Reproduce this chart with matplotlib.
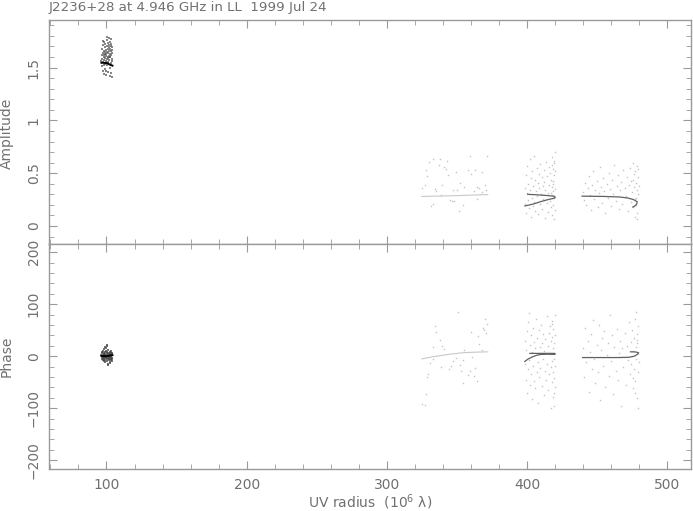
import numpy as np
import matplotlib
matplotlib.use("Agg")
import matplotlib.pyplot as plt
from matplotlib.ticker import MultipleLocator

# ---- visibilities (uv radius in 10^6 lambda) ----
# short baseline cluster, amplitude
uv_amp_1 = [96.4, 96.6, 96.8, 97.0, 97.1, 97.3, 97.4, 97.6, 97.7, 97.9, 98.0, 98.1, 98.3, 98.4,
            98.5, 98.7, 98.8, 98.9, 99.1, 99.2, 99.3, 99.5, 99.6, 99.7, 99.9, 100.0, 100.1, 100.3,
            100.4, 100.5, 100.7, 100.8, 100.9, 101.1, 101.2, 101.3, 101.5, 101.6, 101.7, 101.9,
            102.0, 102.1, 102.3, 102.4, 102.5, 102.7, 102.8, 102.9, 103.1, 103.2, 103.3, 103.5,
            103.6, 103.7, 103.9, 104.0, 104.1, 104.2, 98.2, 99.4, 100.6, 101.4, 102.6, 97.5,
            103.0, 100.2, 101.0, 99.0, 102.2, 103.4]
amp_1 = [1.56, 1.62, 1.51, 1.68, 1.58, 1.47, 1.64, 1.55, 1.71, 1.60, 1.52, 1.66, 1.57, 1.74,
         1.62, 1.49, 1.69, 1.59, 1.65, 1.53, 1.72, 1.61, 1.56, 1.67, 1.43, 1.63, 1.70, 1.58,
         1.76, 1.65, 1.52, 1.68, 1.60, 1.73, 1.64, 1.55, 1.69, 1.61, 1.78, 1.66, 1.57, 1.71,
         1.63, 1.50, 1.68, 1.74, 1.60, 1.66, 1.54, 1.70, 1.62, 1.45, 1.67, 1.58, 1.64, 1.41,
         1.69, 1.56, 1.44, 1.47, 1.79, 1.46, 1.42, 1.75, 1.77, 1.54, 1.59, 1.63, 1.60, 1.72]

uv_phs_1 = [96.4, 96.6, 96.8, 97.0, 97.1, 97.3, 97.4, 97.6, 97.7, 97.9, 98.0, 98.1, 98.3, 98.4,
            98.5, 98.7, 98.8, 98.9, 99.1, 99.2, 99.3, 99.5, 99.6, 99.7, 99.9, 100.0, 100.1, 100.3,
            100.4, 100.5, 100.7, 100.8, 100.9, 101.1, 101.2, 101.3, 101.5, 101.6, 101.7, 101.9,
            102.0, 102.1, 102.3, 102.4, 102.5, 102.7, 102.8, 102.9, 103.1, 103.2, 103.3, 103.5,
            103.6, 103.7, 103.9, 104.0, 104.1, 104.2, 99.0, 100.2, 101.4, 98.2, 102.6, 100.6]
phs_1 = [2, -5, 6, -2, 9, -8, 3, -4, 11, 0, -10, 5, -3, 7, -6, 2, -12, 8, -1, 4, -7, 10, 1, -4,
         15, -2, 6, -9, 3, -5, 8, 0, -14, 4, -3, 12, -6, 2, 7, -8, 1, -2, 9, -11, 5, -4, 3, -7,
         6, -1, 10, -5, 2, -9, 4, -3, 7, -6, 17, 19, -16, 13, -13, 21]

# second cluster (325-372)
uv_amp_2 = [359.0, 371.4, 333.3, 337.6, 330.0, 342.9, 337.0, 341.0, 342.0, 327.9, 357.6, 362.6,
            349.0, 367.6, 360.2, 329.0, 344.0, 351.9, 326.9, 339.7, 369.7, 355.0, 364.5, 325.4,
            334.7, 366.1, 346.9, 350.0, 370.9, 335.4, 361.9, 368.1, 339.0, 364.3, 344.9, 346.3,
            348.1, 332.6, 354.0, 331.2, 351.2]
amp_2 = [0.66, 0.66, 0.63, 0.63, 0.61, 0.62, 0.58, 0.56, 0.54, 0.53, 0.53, 0.53, 0.51, 0.51,
         0.49, 0.47, 0.48, 0.41, 0.39, 0.39, 0.39, 0.37, 0.37, 0.36, 0.35, 0.36, 0.34, 0.34,
         0.34, 0.33, 0.33, 0.32, 0.29, 0.26, 0.25, 0.24, 0.24, 0.21, 0.20, 0.19, 0.14]

uv_phs_2 = [351.1, 369.7, 334.7, 371.4, 368.3, 335.4, 360.0, 369.0, 370.7, 365.0, 337.6, 366.1,
            339.7, 333.3, 341.1, 355.4, 367.6, 361.1, 332.6, 349.0, 354.7, 346.9, 331.1, 351.9,
            339.0, 346.1, 344.7, 362.6, 352.6, 359.0, 357.6, 361.9, 329.7, 329.0, 364.3, 354.0,
            327.9, 325.4, 326.9]
phs_2 = [85, 72, 58, 62, 55, 47, 47, 51, 45, 39, 31, 24, 20, 18, 14, 12, 12, -1, -5, -3, -7,
         -9, -13, -17, -20, -18, -24, -22, -28, -28, -36, -38, -34, -40, -47, -51, -72, -92, -93]

# third cluster (398-420)
uv_amp_3 = [398.5, 398.8, 399.2, 399.5, 399.9, 400.3, 400.6, 401.0, 401.4, 401.8, 402.1, 402.5,
            402.9, 403.3, 403.7, 404.0, 404.4, 404.8, 405.2, 405.6, 406.0, 406.4, 406.8, 407.2,
            407.6, 408.0, 408.4, 408.8, 409.2, 409.6, 410.0, 410.4, 410.8, 411.2, 411.6, 412.0,
            412.4, 412.8, 413.2, 413.6, 414.0, 414.4, 414.8, 415.2, 415.6, 416.0, 416.3, 416.6,
            416.9, 417.2, 417.5, 417.7, 417.9, 418.1, 418.3, 418.5, 418.7, 418.9, 419.1, 419.3,
            419.5, 419.7, 419.8, 419.9, 420.0, 418.0, 419.0, 418.6, 419.4, 417.4]
amp_3 = [0.36, 0.21, 0.48, 0.12, 0.31, 0.57, 0.25, 0.40, 0.17, 0.63, 0.34, 0.09, 0.45, 0.27,
         0.52, 0.19, 0.38, 0.66, 0.23, 0.44, 0.14, 0.33, 0.55, 0.28, 0.41, 0.11, 0.49, 0.36,
         0.21, 0.59, 0.30, 0.46, 0.16, 0.38, 0.26, 0.53, 0.42, 0.08, 0.34, 0.61, 0.22, 0.47,
         0.31, 0.13, 0.56, 0.39, 0.24, 0.50, 0.18, 0.44, 0.65, 0.29, 0.37, 0.10, 0.54, 0.33,
         0.43, 0.20, 0.60, 0.27, 0.48, 0.15, 0.70, 0.35, 0.52, 0.58, 0.07, 0.40, 0.62, 0.31]

uv_phs_3 = [398.5, 398.8, 399.2, 399.5, 399.9, 400.3, 400.6, 401.0, 401.4, 401.8, 402.1, 402.5,
            402.9, 403.3, 403.7, 404.0, 404.4, 404.8, 405.2, 405.6, 406.0, 406.4, 406.8, 407.2,
            407.6, 408.0, 408.4, 408.8, 409.2, 409.6, 410.0, 410.4, 410.8, 411.2, 411.6, 412.0,
            412.4, 412.8, 413.2, 413.6, 414.0, 414.4, 414.8, 415.2, 415.6, 416.0, 416.3, 416.6,
            416.9, 417.2, 417.5, 417.7, 417.9, 418.1, 418.3, 418.5, 418.7, 418.9, 419.1, 419.3,
            419.5, 419.7, 419.8, 419.9, 420.0, 419.0, 418.0, 419.4, 417.0, 401.2]
phs_3 = [-15, 30, -45, 12, -70, 48, -25, 65, -8, -55, 22, -35, 40, -82, 8, 55, -18, -48, 28,
         -62, 15, 72, -30, 35, -12, -90, 50, -40, 18, -22, 60, -58, 25, -5, 42, -75, 10, -28,
         33, -45, 78, -15, 20, -65, 45, -35, 5, 58, -20, 30, -50, 68, -10, 38, -78, 15, -30,
         52, -5, -42, 25, -60, 80, -18, 40, -95, 62, -70, -99, 84]

# fourth cluster (440-480)
uv_amp_4 = [440.0, 440.8, 441.6, 442.4, 443.2, 444.0, 444.8, 445.6, 446.4, 447.2, 448.0, 448.8,
            449.6, 450.4, 451.2, 452.0, 452.8, 453.6, 454.4, 455.2, 456.0, 456.8, 457.6, 458.4,
            459.2, 460.0, 460.8, 461.6, 462.4, 463.2, 464.0, 464.8, 465.6, 466.4, 467.2, 468.0,
            468.8, 469.6, 470.4, 471.2, 472.0, 472.8, 473.4, 474.0, 474.5, 475.0, 475.4, 475.8,
            476.2, 476.6, 477.0, 477.3, 477.6, 477.9, 478.2, 478.5, 478.8, 479.1, 479.4, 479.6,
            476.8, 478.0, 479.0, 475.6, 478.6]
amp_4 = [0.32, 0.25, 0.41, 0.20, 0.36, 0.47, 0.29, 0.15, 0.39, 0.52, 0.26, 0.34, 0.43, 0.18,
         0.31, 0.56, 0.37, 0.22, 0.45, 0.33, 0.12, 0.40, 0.27, 0.50, 0.35, 0.19, 0.44, 0.30,
         0.58, 0.24, 0.38, 0.48, 0.16, 0.34, 0.42, 0.21, 0.53, 0.36, 0.28, 0.46, 0.14, 0.39,
         0.55, 0.23, 0.43, 0.32, 0.60, 0.18, 0.49, 0.37, 0.09, 0.52, 0.27, 0.41, 0.34, 0.57,
         0.12, 0.46, 0.30, 0.38, 0.26, 0.20, 0.54, 0.44, 0.07]

uv_phs_4 = uv_amp_4
phs_4 = [15, -40, 55, -12, 30, -68, 8, 42, -25, 70, -5, -52, 22, -30, 60, -85, 12, 35, -18, 48,
         -60, 3, 25, -38, 80, -10, 40, -72, 18, -28, 52, -45, 6, 30, -95, 15, -20, 45, -55, 20,
         -8, 65, -35, 28, -15, 50, -62, 10, 36, -25, 72, -48, 18, -5, 42, -80, 25, -30, 58,
         -12, -70, 85, -100, -42, 32]

# model traces
mod_uv_1 = [96.4, 98.0, 99.5, 101.0, 102.0, 103.0, 104.3]
mod_amp_1 = [1.545, 1.545, 1.543, 1.540, 1.530, 1.525, 1.518]
mod_phs_1 = [0.5, 0.5, 0.0, 0.5, 1.0, 1.5, 2.0]

mod_uv_2 = [325.0, 335.0, 345.0, 355.0, 365.0, 372.0]
mod_amp_2 = [0.280, 0.283, 0.286, 0.290, 0.295, 0.298]
mod_phs_2 = [-5, 0, 4, 7, 8, 8.5]

mod_uv_3a = [398.5, 405.0, 410.0, 415.0, 419.0, 420.2, 419.5, 415.0, 410.0, 405.0, 400.5]
mod_amp_3 = [0.190, 0.210, 0.232, 0.250, 0.262, 0.272, 0.282, 0.288, 0.293, 0.297, 0.300]
mod_uv_3p = [398.4, 401.0, 404.0, 407.0, 410.0, 415.0, 419.7, 420.2, 419.7, 415.0, 410.0, 402.0]
mod_phs_3 = [-10, -5, -1, 2, 3.5, 4, 3.5, 4.5, 5.5, 5.5, 5.5, 5.5]

mod_uv_4a = [439.3, 455.0, 466.0, 472.0, 476.0, 478.6, 478.3, 477.0, 475.5]
mod_amp_4 = [0.283, 0.280, 0.275, 0.265, 0.250, 0.230, 0.210, 0.190, 0.180]
mod_uv_4p = [439.7, 455.0, 465.0, 472.6, 476.5, 479.0, 479.7, 478.0, 476.0, 473.8]
mod_phs_4 = [-2.5, -2.5, -2.5, -2.0, 0.0, 4.0, 6.5, 8.0, 8.5, 8.5]

frame = "#9a9a9a"
txt = "#707070"
dot = "#c2c2c2"

fig = plt.figure(figsize=(6.93, 5.11), dpi=100)
ax_a = fig.add_axes([49 / 693, 1 - 244 / 511, 642 / 693, 224 / 511])
ax_p = fig.add_axes([49 / 693, 1 - 468.5 / 511, 642 / 693, 224.5 / 511], sharex=ax_a)

for ax in (ax_a, ax_p):
    for s in ax.spines.values():
        s.set_color(frame)
        s.set_linewidth(1.0)
    ax.tick_params(which="both", direction="in", top=True, right=True, color=frame,
                   labelcolor=txt, labelsize=10)
    ax.tick_params(which="major", length=6)
    ax.tick_params(which="minor", length=3.5)
    ax.tick_params(axis="y", labelrotation=90, pad=6)
    ax.xaxis.set_major_locator(MultipleLocator(100))
    ax.xaxis.set_minor_locator(MultipleLocator(20))

ax_a.set_xlim(59, 517)
ax_a.set_ylim(-0.17, 1.95)
ax_a.yaxis.set_minor_locator(MultipleLocator(0.1))
ax_a.set_yticks([0, 0.5, 1, 1.5], ["0", "0.5", "1", "1.5"], va="center")
ax_a.tick_params(axis="x", labelbottom=False)

ax_p.set_ylim(-216, 216)
ax_p.yaxis.set_minor_locator(MultipleLocator(20))
ax_p.set_yticks([-200, -100, 0, 100, 200], ["\u2212200", "\u2212100", "0", "100", "200"], va="center")
ax_p.tick_params(axis="x", pad=7)

# amplitude points
ax_a.plot(uv_amp_1, amp_1, "s", ms=1.9, mew=0, color="#555555", alpha=0.7)
for u, a in [(uv_amp_2, amp_2), (uv_amp_3, amp_3), (uv_amp_4, amp_4)]:
    ax_a.plot(u, a, "s", ms=1.0, mew=0, color=dot)
ax_a.plot(mod_uv_1, mod_amp_1, color="black", lw=1.4)
ax_a.plot(mod_uv_2, mod_amp_2, color="#c8c8c8", lw=0.8)
ax_a.plot(mod_uv_3a, mod_amp_3, color="#606060", lw=0.9)
ax_a.plot(mod_uv_4a, mod_amp_4, color="#606060", lw=0.9)

# phase points
ax_p.plot(uv_phs_1, phs_1, "s", ms=1.9, mew=0, color="#444444", alpha=0.75)
for u, p in [(uv_phs_2, phs_2), (uv_phs_3, phs_3), (uv_phs_4, phs_4)]:
    ax_p.plot(u, p, "s", ms=1.0, mew=0, color=dot)
ax_p.plot(mod_uv_1, mod_phs_1, color="black", lw=1.4)
ax_p.plot(mod_uv_2, mod_phs_2, color="#c8c8c8", lw=0.8)
ax_p.plot(mod_uv_3p, mod_phs_3, color="#606060", lw=0.9)
ax_p.plot(mod_uv_4p, mod_phs_4, color="#606060", lw=0.9)

fig.text(49 / 693, 1 - 7 / 511, "J2236+28 at 4.946 GHz in LL  1999 Jul 24",
         ha="left", va="center", color=txt, fontsize=9.6)
fig.text(7 / 693, 1 - 133 / 511, "Amplitude", rotation=90, ha="center", va="center",
         color=txt, fontsize=10)
fig.text(7 / 693, 1 - 356 / 511, "Phase", rotation=90, ha="center", va="center",
         color=txt, fontsize=10)
fig.text(370 / 693, 1 - 502 / 511, "UV radius  (10$^6$ λ)", ha="center", va="center",
         color=txt, fontsize=10)

fig.savefig("out.png", dpi=100)
